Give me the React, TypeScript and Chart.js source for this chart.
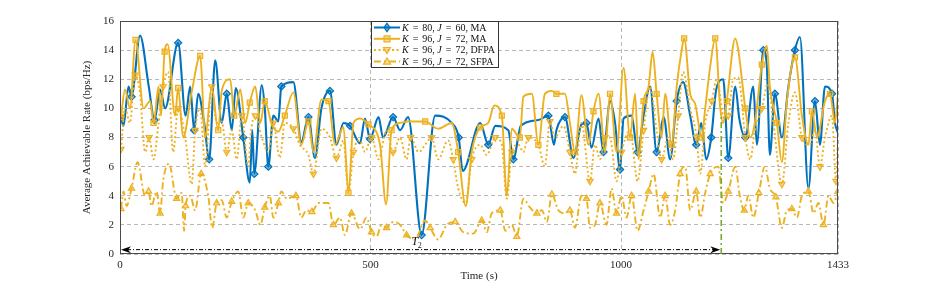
import React, { useEffect, useRef } from 'react';
import { Chart, registerables } from 'chart.js';
Chart.register(...registerables);

const xTicks = [0, 500, 1000, 1433];
const xMax = 1433;
const yMax = 16;
const yStep = 2;

const ma80Time = [2,7,17,23,40,57,69,80,90,116,131,140,148,156,168,178,190,203,213,223,231,246,259,264,268,283,289,296,306,316,322,346,362,376,389,402,419,432,446,459,479,489,499,516,525,545,559,575,602,629,662,676,684,719,735,749,775,785,800,835,855,866,871,888,905,921,931,941,955,965,978,988,998,1005,1021,1033,1045,1058,1071,1085,1098,1111,1124,1138,1150,1160,1170,1180,1190,1204,1214,1228,1236,1248,1264,1271,1284,1291,1297,1307,1321,1334,1347,1357,1374,1387,1397,1407,1421,1427,1433];
const ma80Rate = [9.4,8.8,11.5,10.8,15.0,11.6,9.2,11.3,10.0,14.5,9.5,11.5,8.5,11.0,9.0,6.5,13.3,9.0,11.0,8.5,11.4,8.0,4.9,8.5,5.5,11.6,10.0,6.0,9.5,9.1,11.5,11.8,7.7,9.4,6.6,10.0,11.2,7.5,9.0,8.8,7.6,9.3,7.9,9.4,8.0,9.4,8.5,9.4,1.3,9.5,9.0,8.0,5.7,9.0,7.5,8.8,8.5,6.5,8.8,9.2,9.5,7.5,8.5,9.4,6.6,8.9,9.0,7.3,9.3,7.0,10.5,9.0,5.8,9.3,9.5,7.0,9.5,11.5,7.0,9.4,6.5,10.5,11.8,9.5,7.5,9.0,6.5,8.0,11.3,12.0,6.6,11.5,9.3,8.0,11.5,7.5,14.0,12.9,6.8,11.0,8.0,11.5,14.0,14.9,4.5,10.5,7.5,11.5,11.0,9.0,8.3];

const ma96Time = [2,10,20,31,47,60,67,77,82,89,95,110,116,126,143,160,170,183,196,203,220,228,240,250,259,270,280,289,303,316,329,346,362,376,386,402,416,429,446,456,466,479,496,519,531,542,559,575,609,635,662,675,690,702,719,735,747,762,772,782,798,805,822,835,848,862,871,888,898,908,921,935,945,955,968,978,991,1005,1018,1028,1035,1045,1055,1063,1071,1081,1088,1101,1111,1121,1126,1138,1148,1161,1168,1178,1188,1198,1204,1211,1228,1234,1248,1258,1267,1281,1291,1297,1311,1321,1331,1347,1361,1374,1381,1391,1407,1417,1427,1433];
const ma96Rate = [9.4,11.3,10.0,14.7,10.0,10.5,9.0,11.5,9.5,13.9,14.4,9.5,11.4,8.0,11.1,13.6,8.0,11.5,8.5,11.2,12.0,9.5,11.3,9.0,10.4,11.5,9.0,10.5,8.9,8.4,9.5,11.1,7.5,9.1,7.0,10.6,10.5,7.5,8.7,4.2,9.0,9.3,8.9,7.5,3.4,8.5,9.0,9.1,9.1,8.6,9.0,7.0,3.3,7.0,8.7,9.0,10.2,9.5,4.0,8.6,8.0,10.8,11.0,7.5,11.0,11.2,11.0,11.0,9.0,7.0,10.9,7.5,9.8,11.0,7.0,11.0,7.0,12.8,8.0,11.0,6.5,10.5,11.5,13.9,11.0,8.0,11.0,7.5,11.5,14.0,14.8,11.0,10.3,8.0,10.0,12.9,14.8,10.0,9.0,10.5,14.8,14.0,10.0,8.0,9.0,13.0,14.3,11.5,9.0,6.3,10.5,13.5,9.5,7.5,9.8,8.0,10.5,11.0,9.0,11.0];

const dfpaTime = [2,10,20,30,40,50,58,67,77,86,96,106,116,130,143,150,160,170,183,193,203,213,223,233,243,256,261,270,283,296,306,319,329,346,359,376,386,402,419,432,446,456,466,479,489,502,516,532,545,559,572,580,596,609,622,635,655,665,675,690,702,719,732,749,762,772,782,795,805,815,835,848,858,868,885,898,908,921,938,948,958,968,978,991,1001,1018,1033,1045,1058,1071,1081,1094,1104,1114,1124,1138,1151,1158,1168,1181,1191,1206,1214,1224,1234,1248,1258,1267,1281,1293,1304,1321,1334,1347,1361,1377,1387,1397,1407,1421,1429,1433];
const dfpaRate = [7.2,10.0,9.0,12.3,11.0,7.0,8.0,6.5,9.0,11.5,12.5,7.0,10.0,8.0,4.8,8.5,10.0,6.0,11.5,9.0,9.1,7.0,8.5,6.5,9.5,6.0,8.3,9.5,8.0,7.0,9.0,6.6,9.0,8.6,7.5,6.8,5.5,8.6,8.0,6.6,7.8,4.2,7.0,7.8,7.0,8.0,6.5,8.5,7.0,8.0,6.5,8.0,7.0,7.5,8.0,6.5,7.8,6.5,4.5,3.5,6.5,7.5,6.8,8.0,7.5,3.8,7.0,7.5,7.0,8.0,7.5,6.0,9.1,8.0,8.8,7.0,5.5,9.0,5.0,7.5,6.5,8.0,8.0,5.0,7.0,8.5,5.0,8.5,11.5,8.5,6.5,8.0,6.5,9.5,12.5,10.0,8.0,5.5,9.0,10.5,12.0,9.3,9.5,12.0,12.1,8.0,6.5,8.5,10.0,11.7,9.0,4.8,9.0,11.1,8.0,7.5,8.5,6.0,8.0,9.5,5.0,8.0];

const sfpaTime = [2,7,13,23,35,50,57,63,73,80,86,98,113,123,128,131,140,150,162,176,184,193,203,213,223,236,246,256,270,280,289,299,306,316,322,333,351,362,372,383,396,416,426,439,449,462,479,492,502,512,522,532,545,559,572,589,609,619,635,652,669,685,705,722,732,742,759,769,782,792,805,818,832,842,852,862,875,888,898,908,921,931,938,948,958,971,981,991,1001,1011,1021,1033,1045,1055,1065,1078,1088,1098,1108,1118,1128,1138,1150,1158,1168,1178,1194,1204,1214,1228,1237,1246,1254,1264,1275,1287,1297,1309,1321,1331,1341,1351,1361,1374,1384,1394,1404,1414,1424,1433];
const sfpaRate = [3.1,4.3,3.3,4.5,6.3,4.0,4.3,3.3,4.3,2.8,5.0,6.2,3.8,4.2,1.6,3.3,4.0,3.0,5.5,4.0,1.8,3.5,3.7,2.5,3.6,4.3,2.5,3.5,3.0,2.0,3.2,4.0,2.5,3.5,4.3,3.8,4.0,2.5,3.0,2.9,3.5,3.5,2.0,2.5,1.3,2.8,1.7,2.5,1.5,1.2,2.0,1.8,2.2,2.0,1.3,1.0,2.3,1.8,1.0,2.0,2.2,1.5,1.4,2.3,1.5,2.8,3.0,1.6,2.0,1.2,3.8,3.2,2.8,3.0,2.2,4.1,3.0,2.8,3.0,1.8,4.0,3.8,1.8,2.0,3.5,2.0,4.5,2.8,4.0,2.5,4.0,1.6,3.0,4.3,5.5,2.5,4.0,2.0,3.0,5.5,6.0,3.0,4.3,2.5,4.2,5.5,6.0,3.5,4.3,6.0,4.0,3.0,4.0,2.5,4.2,6.0,4.5,3.9,1.8,3.0,3.1,2.5,4.0,4.3,2.8,3.5,2.0,4.0,3.5,4.3];

const seriesLabels = ['K = 80, J = 60, MA', 'K = 96, J = 72, MA', 'K = 96, J = 72, DFPA', 'K = 96, J = 72, SFPA'];
const xTitle = 'Time (s)';
const yTitle = 'Average Achievable Rate (bps/Hz)';
const boundaryTime = 1200;
const boundaryTop = 9.5;
const arrowLevel = 0.3;
const labelTime = 592;
const labelLevel = 0.85;
const labelMain = 'T';
const labelSub = '2';

const BLUE = '#0072BD';
const GOLD = '#EDB120';
const GREEN = '#77AC30';
const SERIF = '"Liberation Serif", "DejaVu Serif", serif';

const styles = [
  { color: BLUE, fill: 'rgba(0,114,189,0.55)', dash: [] as number[], marker: 'diamond' },
  { color: GOLD, fill: 'rgba(237,177,32,0.45)', dash: [] as number[], marker: 'square' },
  { color: GOLD, fill: 'rgba(237,177,32,0.45)', dash: [2, 2.5], marker: 'down' },
  { color: GOLD, fill: 'rgba(237,177,32,0.45)', dash: [7, 3, 2, 3], marker: 'up' },
];

function pts(t: number[], v: number[]) {
  return t.map((x, i) => ({ x, y: v[i] }));
}

function drawMarker(ctx: CanvasRenderingContext2D, kind: string, cx: number, cy: number, r: number, color: string, fill: string) {
  ctx.beginPath();
  if (kind === 'diamond') {
    ctx.moveTo(cx, cy - r * 1.2); ctx.lineTo(cx + r * 0.85, cy); ctx.lineTo(cx, cy + r * 1.2); ctx.lineTo(cx - r * 0.85, cy);
  } else if (kind === 'square') {
    ctx.rect(cx - r * 0.85, cy - r * 0.85, r * 1.7, r * 1.7);
  } else if (kind === 'down') {
    ctx.moveTo(cx - r, cy - r * 0.75); ctx.lineTo(cx + r, cy - r * 0.75); ctx.lineTo(cx, cy + r);
  } else {
    ctx.moveTo(cx - r, cy + r * 0.75); ctx.lineTo(cx + r, cy + r * 0.75); ctx.lineTo(cx, cy - r);
  }
  ctx.closePath();
  ctx.fillStyle = fill; ctx.fill();
  ctx.setLineDash([]); ctx.lineWidth = 1.2; ctx.strokeStyle = color; ctx.stroke();
}

function drawMixed(ctx: CanvasRenderingContext2D, text: string, x: number, y: number, size: number) {
  const parts = text.split(/([KJ=])/).filter((p) => p.length);
  let cx = x;
  for (const p of parts) {
    const it = p === 'K' || p === 'J';
    ctx.font = `${it ? 'italic ' : ''}${size}px ${SERIF}`;
    if (p === '=') {
      cx += 1.5;
      ctx.fillText(p, cx, y);
      cx += ctx.measureText(p).width + 1.5;
    } else {
      ctx.fillText(p, cx, y);
      cx += ctx.measureText(p).width;
    }
  }
}

const overlay = {
  id: 'overlay',
  afterDatasetsDraw(chart: any) {
    const { ctx, chartArea: a, scales } = chart;
    const x = scales.x, y = scales.y;
    ctx.save();
    ctx.setLineDash([]);
    ctx.strokeStyle = '#4a4a4a';
    ctx.lineWidth = 1;
    ctx.strokeRect(Math.round(a.left) + 0.5, Math.round(a.top) + 0.5, Math.round(a.right - a.left) - 1, Math.round(a.bottom - a.top) - 1);

    const bx = x.getPixelForValue(boundaryTime);
    ctx.strokeStyle = GREEN;
    ctx.lineWidth = 1.6;
    ctx.setLineDash([6, 3, 2, 3]);
    ctx.beginPath();
    ctx.moveTo(bx, y.getPixelForValue(0));
    ctx.lineTo(bx, y.getPixelForValue(boundaryTop));
    ctx.stroke();

    const ay = y.getPixelForValue(arrowLevel);
    const ax1 = x.getPixelForValue(0) + 1;
    const ax2 = bx - 1;
    ctx.strokeStyle = '#000';
    ctx.lineWidth = 1;
    ctx.setLineDash([4, 2, 1, 2]);
    ctx.beginPath();
    ctx.moveTo(ax1 + 6, ay);
    ctx.lineTo(ax2 - 6, ay);
    ctx.stroke();
    ctx.setLineDash([]);
    ctx.fillStyle = '#000';
    ctx.beginPath();
    ctx.moveTo(ax1, ay); ctx.lineTo(ax1 + 10, ay - 3.5); ctx.lineTo(ax1 + 7, ay); ctx.lineTo(ax1 + 10, ay + 3.5); ctx.closePath(); ctx.fill();
    ctx.beginPath();
    ctx.moveTo(ax2, ay); ctx.lineTo(ax2 - 10, ay - 3.5); ctx.lineTo(ax2 - 7, ay); ctx.lineTo(ax2 - 10, ay + 3.5); ctx.closePath(); ctx.fill();

    const lx = x.getPixelForValue(labelTime);
    const ly = y.getPixelForValue(labelLevel);
    ctx.fillStyle = '#1a1a1a';
    ctx.textBaseline = 'middle';
    ctx.font = `italic 12px ${SERIF}`;
    ctx.fillText(labelMain, lx - 5, ly);
    const w = ctx.measureText(labelMain).width;
    ctx.font = `8px ${SERIF}`;
    ctx.fillText(labelSub, lx - 5 + w - 0.5, ly + 4);

    const L = 371, T = Math.round(a.top), W = 127, H = 46;
    ctx.fillStyle = '#fff';
    ctx.fillRect(L, T, W, H);
    ctx.strokeStyle = '#333';
    ctx.lineWidth = 1;
    ctx.strokeRect(L + 0.5, T + 0.5, W, H);
    seriesLabels.forEach((lab, i) => {
      const st = styles[i];
      const ry = T + 6.5 + i * 11.3;
      ctx.strokeStyle = st.color;
      ctx.lineWidth = 2;
      ctx.setLineDash(st.dash);
      ctx.beginPath();
      ctx.moveTo(L + 3, ry);
      ctx.lineTo(L + 29, ry);
      ctx.stroke();
      drawMarker(ctx, st.marker, L + 16, ry, 3.5, st.color, st.fill);
      ctx.fillStyle = '#111';
      ctx.textBaseline = 'middle';
      drawMixed(ctx, lab, L + 31, ry + 0.5, 10);
    });
    ctx.restore();
  },
};

export default function App() {
  const ref = useRef<HTMLCanvasElement | null>(null);
  useEffect(() => {
    document.body.style.margin = '0';
    const series = [
      pts(ma80Time, ma80Rate),
      pts(ma96Time, ma96Rate),
      pts(dfpaTime, dfpaRate),
      pts(sfpaTime, sfpaRate),
    ];
    const styleMap: Record<string, { ps: string; rot: number }> = {
      diamond: { ps: 'rectRot', rot: 0 },
      square: { ps: 'rect', rot: 0 },
      down: { ps: 'triangle', rot: 180 },
      up: { ps: 'triangle', rot: 0 },
    };
    const datasets = series.map((d, i) => {
      const st = styles[i];
      const m = styleMap[st.marker];
      return {
        label: seriesLabels[i],
        data: d,
        borderColor: st.color,
        backgroundColor: st.fill,
        borderWidth: i === 0 ? 2.1 : 1.9,
        borderDash: st.dash,
        cubicInterpolationMode: 'monotone',
        tension: 0.4,
        pointStyle: m.ps,
        rotation: m.rot,
        pointBorderWidth: 1.2,
        pointBorderColor: st.color,
        pointBackgroundColor: st.fill,
        pointRadius: (c: any) => (c.dataIndex % 3 === 0 ? 3.6 : 0),
        pointHoverRadius: 0,
        order: 4 - i,
      };
    });
    const chart = new Chart(ref.current!, {
      type: 'line',
      data: { datasets: datasets as any },
      options: {
        responsive: false,
        animation: false,
        events: [],
        layout: { padding: { left: 77, right: 89, top: 21, bottom: 0 } },
        plugins: { legend: { display: false }, tooltip: { enabled: false } },
        scales: {
          x: {
            type: 'linear',
            min: 0,
            max: xMax,
            afterBuildTicks: (s: any) => { s.ticks = xTicks.map((v) => ({ value: v })); },
            afterFit: (s: any) => { s.height = 31; },
            grid: { color: 'rgba(0,0,0,0.28)', lineWidth: 1, drawTicks: false },
            border: { display: false, dash: [4, 3] },
            ticks: { padding: 5, maxRotation: 0, autoSkip: false, color: '#262626', font: { family: SERIF, size: 11 }, callback: (v: any) => String(v) },
            title: { display: true, text: xTitle, color: '#262626', padding: { top: 0, bottom: 2 }, font: { family: SERIF, size: 11 } },
          },
          y: {
            min: 0,
            max: yMax,
            afterFit: (s: any) => { s.width = 43; },
            grid: { color: 'rgba(0,0,0,0.28)', lineWidth: 1, drawTicks: false },
            border: { display: false, dash: [4, 3] },
            ticks: { stepSize: yStep, padding: 6, color: '#262626', font: { family: SERIF, size: 11 }, callback: (v: any) => String(v) },
            title: { display: true, text: yTitle, color: '#262626', padding: { top: 4, bottom: 4 }, font: { family: SERIF, size: 11 } },
          },
        },
      },
      plugins: [overlay],
    });
    return () => chart.destroy();
  }, []);
  return (
    <div style={{ width: 927, height: 285, background: '#fff' }}>
      <canvas ref={ref} width={927} height={285} />
    </div>
  );
}
